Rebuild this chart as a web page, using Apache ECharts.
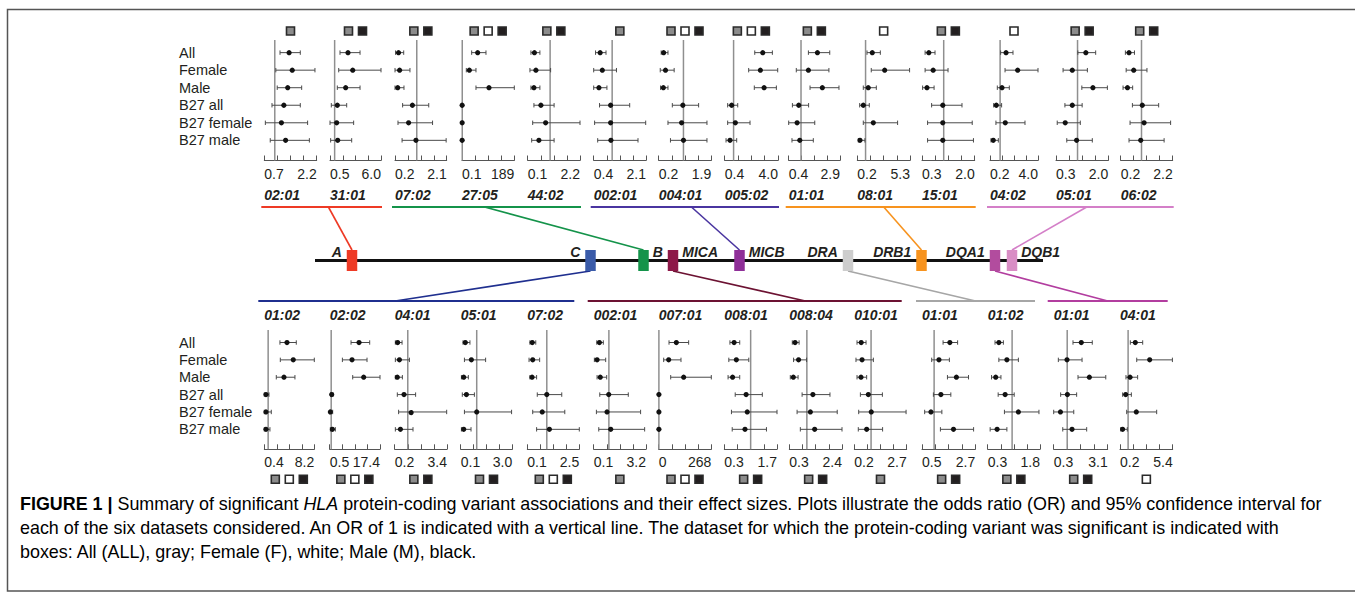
<!DOCTYPE html>
<html><head><meta charset="utf-8">
<script src="https://cdn.jsdelivr.net/npm/echarts@6/dist/echarts.min.js"></script>
<style>html,body{margin:0;padding:0;background:#fff}#c{width:1355px;height:602px}</style>
</head><body><div id="c"></div>
<script>
// ---------------- DATA ----------------
const rowLabels = ['All', 'Female', 'Male', 'B27 all', 'B27 female', 'B27 male'];

// top row (HLA-A, B, MICB, DRB1, DQB1 alleles)
const topAlleles = ['02:01','31:01','07:02','27:05','44:02','002:01','004:01','005:02','01:01','08:01','15:01','04:02','05:01','06:02'];
const topTickLabels = [['0.7','2.2'],['0.5','6.0'],['0.2','2.1'],['0.1','189'],['0.1','2.2'],['0.4','2.1'],['0.2','1.9'],['0.4','4.0'],['0.4','2.9'],['0.2','5.3'],['0.3','2.0'],['0.2','4.0'],['0.3','2.0'],['0.2','2.2']];
const topSig = ['A','AM','AM','AFM','AM','A','AFM','AFM','AM','F','AM','F','AM','AM'];
const topOR = [
  [1.41,1.50,1.37,1.26,1.19,1.31],
  [2.44,2.95,2.19,1.29,1.22,1.33],
  [0.33,0.37,0.30,0.84,0.70,0.97],
  [56.7,26.6,97.6,0.6,0.7,0.6],
  [0.37,0.43,0.35,0.63,0.82,0.55],
  [0.61,0.68,0.57,0.95,0.95,0.96],
  [0.36,0.42,0.35,0.98,0.94,1.00],
  [2.97,2.81,3.06,0.87,1.12,0.76],
  [1.80,1.36,2.04,0.89,0.81,0.94],
  [1.65,2.85,1.26,0.78,1.75,0.46],
  [0.52,0.66,0.46,0.97,0.97,0.97],
  [1.47,2.39,1.15,0.70,1.41,0.46],
  [1.27,0.83,1.50,0.83,0.60,0.97],
  [0.52,0.70,0.46,1.03,1.10,0.97]
];
const topLo = [
  [1.15,1.03,1.07,0.92,0.73,0.87],
  [1.58,1.44,1.29,0.64,0.50,0.57],
  [0.22,0.20,0.20,0.48,0.31,0.46],
  [35.0,15.7,50.6,0.2,0.2,0.2],
  [0.23,0.19,0.23,0.35,0.30,0.26],
  [0.46,0.40,0.40,0.59,0.43,0.53],
  [0.28,0.25,0.26,0.64,0.50,0.58],
  [2.43,2.02,2.40,0.60,0.60,0.49],
  [1.36,0.77,1.44,0.58,0.40,0.56],
  [1.14,1.55,0.78,0.43,0.78,0.30],
  [0.40,0.40,0.32,0.61,0.48,0.48],
  [1.04,1.39,0.78,0.49,0.67,0.28],
  [1.01,0.53,1.14,0.59,0.34,0.65],
  [0.38,0.41,0.29,0.65,0.56,0.52]
];
const topHi = [
  [1.73,2.15,1.77,1.73,1.94,1.99],
  [3.74,6.00,3.74,2.30,3.05,2.84],
  [0.52,0.75,0.53,1.44,1.58,2.08],
  [86.7,50.6,189,1.8,2.1,1.9],
  [0.59,1.02,0.59,1.16,2.20,1.16],
  [0.80,1.14,0.83,1.57,2.09,1.84],
  [0.50,0.70,0.50,1.49,1.76,1.76],
  [3.62,3.98,3.89,1.28,2.11,1.21],
  [2.40,2.36,2.85,1.37,1.67,1.60],
  [2.43,5.26,2.04,1.36,4.10,0.94],
  [0.72,1.14,0.69,1.59,1.92,1.96],
  [2.02,4.00,1.73,1.12,2.97,0.86],
  [1.59,1.32,1.97,1.15,1.09,1.48],
  [0.73,1.21,0.66,1.66,2.12,1.87]
];

// bottom row (HLA-C, MICA, DRA, DQA1 alleles)
const botAlleles = ['01:02','02:02','04:01','05:01','07:02','002:01','007:01','008:01','008:04','010:01','01:01','01:02','01:01','04:01'];
const botTickLabels = [['0.4','8.2'],['0.5','17.4'],['0.2','3.4'],['0.1','3.0'],['0.1','2.5'],['0.1','3.2'],['0','268'],['0.3','1.7'],['0.3','2.4'],['0.2','2.7'],['0.5','2.7'],['0.3','1.8'],['0.3','3.1'],['0.2','5.4']];
const botSig = ['AFM','AFM','AM','AM','AFM','A','AFM','AM','AM','A','AM','AM','AM','F'];
const botOR = [
  [3.94,4.92,3.47,0.66,0.66,0.66],
  [10.35,8.00,11.92,1.17,0.72,1.40],
  [0.38,0.49,0.36,0.77,1.20,0.55],
  [0.36,0.70,0.27,0.42,1.00,0.27],
  [0.33,0.35,0.32,1.00,0.79,1.12],
  [0.44,0.30,0.49,0.99,0.89,1.11],
  [89.9,50.9,127.2,1.0,1.0,1.0],
  [0.56,0.62,0.52,0.88,0.91,0.85],
  [0.53,0.67,0.46,1.24,1.14,1.31],
  [0.53,0.57,0.52,0.87,1.01,0.79],
  [1.65,1.20,1.92,1.28,0.87,1.80],
  [0.62,0.85,0.53,0.80,1.18,0.57],
  [1.73,0.99,2.15,1.01,0.65,1.25],
  [1.71,3.13,1.19,0.76,1.81,0.46]
];
const botLo = [
  [2.84,2.90,2.27,0.40,0.40,0.40],
  [7.67,4.76,8.23,0.84,0.50,0.72],
  [0.24,0.24,0.24,0.36,0.44,0.24],
  [0.23,0.31,0.14,0.19,0.31,0.14],
  [0.22,0.18,0.22,0.56,0.35,0.53],
  [0.28,0.14,0.30,0.46,0.26,0.40],
  [52.6,25.4,61.1,0.3,0.3,0.3],
  [0.45,0.42,0.40,0.59,0.49,0.51],
  [0.42,0.47,0.34,0.81,0.61,0.74],
  [0.33,0.28,0.33,0.49,0.41,0.39],
  [1.37,0.90,1.55,0.97,0.61,1.26],
  [0.51,0.62,0.41,0.60,0.78,0.37],
  [1.30,0.54,1.56,0.66,0.30,0.77],
  [1.22,1.85,0.79,0.46,0.86,0.27]
];
const botHi = [
  [5.39,8.20,5.18,1.13,1.49,1.28],
  [13.94,13.04,17.40,1.62,1.50,2.40],
  [0.65,1.10,0.67,1.48,3.38,1.32],
  [0.62,1.50,0.53,0.87,2.96,0.68],
  [0.49,0.67,0.53,1.69,1.83,2.50],
  [0.67,0.81,0.87,2.15,2.88,3.12],
  [152.6,113.6,268,2.5,2.8,2.6],
  [0.71,0.95,0.71,1.31,1.70,1.42],
  [0.69,0.99,0.65,1.92,2.21,2.40],
  [0.76,1.11,0.79,1.54,2.67,1.55],
  [1.97,1.63,2.42,1.69,1.32,2.63],
  [0.75,1.18,0.68,1.06,1.77,0.85],
  [2.30,1.77,3.00,1.49,1.34,2.01],
  [2.44,5.37,1.94,1.32,3.82,0.92]
];

// gene map (schematic positions along the MHC region)
const geneNames = ['A','C','B','MICA','MICB','DRA','DRB1','DQA1','DQB1'];
const genePos = [352, 590.5, 643.5, 673, 739.5, 848, 921.5, 995, 1012];
const geneColors = ['#ee3a25','#3a5ba9','#14934a','#8d1848','#8f2f98','#cdcdcd','#f7931e','#b24c9e','#d98dc5'];
const geneLabelSide = ['L','L','R','R','R','L','L','L','R'];

// which panels belong to which gene
const topGroups = [
  {first:0, last:1, gene:0, color:'#ee3a25', frac:0.556},
  {first:2, last:4, gene:2, color:'#14934a', frac:0.49},
  {first:5, last:7, gene:4, color:'#4a35a0', frac:0.535},
  {first:8, last:10, gene:6, color:'#f7931e', frac:0.516},
  {first:11, last:13, gene:8, color:'#d47fc8', frac:0.534}
];
const botGroups = [
  {first:0, last:4, gene:1, color:'#1f2f8f', frac:0.433},
  {first:5, last:9, gene:3, color:'#6c1232', frac:0.693},
  {first:10, last:11, gene:5, color:'#a6a6a6', frac:0.5},
  {first:12, last:13, gene:7, color:'#b23d9f', frac:0.5}
];

// ---------------- LAYOUT ----------------
const topPos = [[264.3,316.7],[330,381],[395,446.7],[462,514.3],[527.7,580],[593.7,646],[658.7,711.3],[724.7,778],[788.7,840],[857.3,910],[922,974.7],[990,1038],[1056,1108.3],[1120.7,1172.7]];
const botPos = [[264.3,314.3],[329.7,380],[394.7,447],[460.7,512.3],[527.3,579.3],[593.7,646],[658.7,711.3],[724.3,777],[789.3,842],[854.3,906.7],[922,975.3],[987.7,1040],[1053.7,1107.7],[1120,1172.7]];
const FONT = '"Liberation Sans", Arial, Helvetica, sans-serif';
const TXT = '#231f20';
const YMIN = -0.72, YMAX = 6.15;
const SIGFILL = {A:'#8c8c8c', F:'#ffffff', M:'#231f20'};

const grids = [], xAxes = [], yAxes = [], series = [];

function errRender(params, api) {
  const y = api.value(0), lo = api.value(1), pt = api.value(2), hi = api.value(3);
  const a = api.coord([lo, y]), p = api.coord([pt, y]), b = api.coord([hi, y]);
  const st = {stroke:'#4a4a4a', lineWidth:1};
  return {type:'group', children:[
    {type:'line', shape:{x1:a[0], y1:a[1], x2:b[0], y2:b[1]}, style:st},
    {type:'line', shape:{x1:a[0], y1:a[1]-2.2, x2:a[0], y2:a[1]+2.2}, style:st},
    {type:'line', shape:{x1:b[0], y1:b[1]-2.2, x2:b[0], y2:b[1]+2.2}, style:st},
    {type:'circle', shape:{cx:p[0], cy:p[1], r:2.6}, style:{fill:'#111'}}
  ]};
}

function addPanel(isTop, i) {
  const pos = isTop ? topPos[i] : botPos[i];
  const lbl = isTop ? topTickLabels[i] : botTickLabels[i];
  const allele = isTop ? topAlleles[i] : botAlleles[i];
  const sig = isTop ? topSig[i] : botSig[i];
  const pt = isTop ? topOR[i] : botOR[i];
  const lo = isTop ? topLo[i] : botLo[i];
  const hi = isTop ? topHi[i] : botHi[i];
  const mn = parseFloat(lbl[0]), mx = parseFloat(lbl[1]);
  const g = grids.length;
  const top = isTop ? 40 : 330, h = isTop ? 120.5 : 119.3;
  grids.push({left: pos[0], width: pos[1]-pos[0], top: top, height: h, show:false});
  const ticks = [0,1,2,3,4].map(k => mn + k*(mx-mn)/4);
  xAxes.push({
    gridIndex:g, type:'value', min:mn, max:mx,
    axisLine:{show:true, onZero:false, lineStyle:{color:'#555', width:1}},
    axisTick:{show:true, inside:true, length:5, lineStyle:{color:'#555', width:1}, customValues:ticks},
    axisLabel:{show:true, customValues:[mn, mx], margin:6, color:TXT, fontSize:14, fontFamily:FONT,
      alignMinLabel:'left', alignMaxLabel:'right', showMinLabel:true, showMaxLabel:true,
      formatter: v => (Math.abs(v-mn) < 1e-9 ? lbl[0] : lbl[1])},
    splitLine:{show:false}
  });
  yAxes.push({gridIndex:g, type:'value', min:YMIN, max:YMAX, inverse:true, show:false});
  // decorations: reference line at OR = 1, significance boxes, allele label, row labels
  series.push({
    type:'custom', xAxisIndex:g, yAxisIndex:g, clip:false, silent:true, z:1,
    data:[[mn, 0]],
    renderItem: function(params, api) {
      const cs = params.coordSys;
      const ch = [];
      const rx = api.coord([1, 0])[0];
      ch.push({type:'line', shape:{x1:rx, y1:cs.y, x2:rx, y2:cs.y+cs.height}, style:{stroke:'#8f8f8f', lineWidth:1.5}});
      const n = sig.length, sp = 14, sz = 8;
      const cx = cs.x + cs.width/2;
      const sy = isTop ? cs.y - 9 : cs.y + cs.height + 30;
      for (let k = 0; k < n; k++) {
        const x = cx + (k - (n-1)/2)*sp;
        ch.push({type:'rect', shape:{x:x-sz/2, y:sy-sz/2, width:sz, height:sz},
          style:{fill:SIGFILL[sig[k]], stroke:'#2a2a2a', lineWidth:1.6}});
      }
      const ay = isTop ? cs.y + cs.height + 34.5 : cs.y - 15;
      ch.push({type:'text', x:cs.x, y:ay, style:{text:allele, fill:TXT, font:'italic bold 14px '+FONT, textAlign:'left', textVerticalAlign:'middle'}});
      if (i === 0) {
        for (let r = 0; r < rowLabels.length; r++) {
          const yy = api.coord([mn, r])[1];
          ch.push({type:'text', x:179, y:yy, style:{text:rowLabels[r], fill:TXT, font:'14.5px '+FONT, textAlign:'left', textVerticalAlign:'middle'}});
        }
      }
      return {type:'group', children:ch};
    }
  });
  series.push({
    type:'custom', xAxisIndex:g, yAxisIndex:g, clip:false, silent:true, z:3,
    data: rowLabels.map((r, k) => [k, lo[k], pt[k], hi[k]]),
    encode:{x:[1,2,3], y:0},
    renderItem: errRender
  });
}

for (let i = 0; i < topAlleles.length; i++) addPanel(true, i);
for (let i = 0; i < botAlleles.length; i++) addPanel(false, i);

// gene map on a full-canvas schematic grid
const mg = grids.length;
grids.push({left:0, top:0, width:1355, height:602, show:false});
xAxes.push({gridIndex:mg, type:'value', min:0, max:1355, show:false});
yAxes.push({gridIndex:mg, type:'value', min:0, max:602, inverse:true, show:false});
const CHR = {x1:315, x2:1043, y:260.5, boxTop:250, boxBot:271, boxW:10.5};
const HTOP = 207, HBOT = 301;

const connData = topGroups.map((gr, k) => ['T', k]).concat(botGroups.map((gr, k) => ['B', k]));
series.push({
  type:'custom', xAxisIndex:mg, yAxisIndex:mg, clip:false, silent:true, z:2,
  data: connData.map((d, k) => [k, 0]),
  renderItem: function(params, api) {
    const d = connData[params.dataIndex];
    const isTop = d[0] === 'T';
    const gr = isTop ? topGroups[d[1]] : botGroups[d[1]];
    const pos = isTop ? topPos : botPos;
    const x1 = isTop ? pos[gr.first][0]-3 : pos[gr.first][0]-6;
    const x2 = isTop ? pos[gr.last][1]+1 : pos[gr.last][1]-5;
    const hy = isTop ? HTOP : HBOT;
    const ax = x1 + gr.frac*(x2-x1);
    const gx = genePos[gr.gene];
    const gy = isTop ? CHR.boxTop : CHR.boxBot;
    const p1 = api.coord([x1, hy]), p2 = api.coord([x2, hy]), pa = api.coord([ax, hy]), pg = api.coord([gx, gy]);
    return {type:'group', children:[
      {type:'line', shape:{x1:p1[0], y1:p1[1], x2:p2[0], y2:p2[1]}, style:{stroke:gr.color, lineWidth:2}},
      {type:'line', shape:{x1:pa[0], y1:pa[1], x2:pg[0], y2:pg[1]}, style:{stroke:gr.color, lineWidth:1.6}}
    ]};
  }
});
series.push({
  type:'custom', xAxisIndex:mg, yAxisIndex:mg, clip:false, silent:true, z:3,
  data:[[CHR.x1, CHR.y]],
  renderItem: function(params, api) {
    const a = api.coord([CHR.x1, CHR.y]), b = api.coord([CHR.x2, CHR.y]);
    return {type:'line', shape:{x1:a[0], y1:a[1], x2:b[0], y2:b[1]}, style:{stroke:'#111', lineWidth:3}};
  }
});
series.push({
  type:'custom', xAxisIndex:mg, yAxisIndex:mg, clip:false, silent:true, z:4,
  data: genePos.map((p, k) => [p, k]),
  renderItem: function(params, api) {
    const k = params.dataIndex;
    const p = genePos[k];
    const tl = api.coord([p - CHR.boxW/2, CHR.boxTop]);
    const br = api.coord([p + CHR.boxW/2, CHR.boxBot]);
    const left = geneLabelSide[k] === 'L';
    const lx = left ? tl[0] - 5 : br[0] + 4;
    return {type:'group', children:[
      {type:'rect', shape:{x:tl[0], y:tl[1], width:br[0]-tl[0], height:br[1]-tl[1]}, style:{fill:geneColors[k]}},
      {type:'text', x:lx, y:CHR.boxTop + 2, style:{text:geneNames[k], fill:TXT, font:'italic bold 14px '+FONT, textAlign: left ? 'right' : 'left', textVerticalAlign:'middle'}}
    ]};
  }
});

// caption font: prefer a narrow face if installed, fit line 1 to the reference width
const capLine1 = 'FIGURE 1 | Summary of significant HLA protein-coding variant associations and their effect sizes. Plots illustrate the odds ratio (OR) and 95% confidence interval for';
const cv = document.createElement('canvas').getContext('2d');
function w(font) { cv.font = font; return cv.measureText(capLine1).width; }
let CAPF = '"Liberation Sans", Arial, sans-serif';
if (Math.abs(w('20px "Liberation Sans Narrow", monospace') - w('20px monospace')) > 1) CAPF = '"Liberation Sans Narrow", "Liberation Sans", sans-serif';
let capSize = 18 * 1300 / w('18px ' + CAPF);
capSize = Math.round(capSize * 10) / 10;
const capStyle = {
  n:{fontFamily:CAPF, fontSize:capSize, color:'#333'},
  i:{fontFamily:CAPF, fontSize:capSize, color:'#333', fontStyle:'italic'},
  b:{fontFamily:CAPF, fontSize:capSize, color:'#222', fontWeight:'bold'},
  bar:{fontFamily:CAPF, fontSize:capSize, color:'#555', fontWeight:'bold'}
};

const option = {
  animation:false,
  backgroundColor:'#fff',
  grid:grids, xAxis:xAxes, yAxis:yAxes, series:series,
  graphic:[
    {type:'polyline', shape:{points:[[1360,9.5],[7.5,9.5],[7.5,591],[1360,591]]}, style:{stroke:'#555', lineWidth:1.5, fill:null}, silent:true},
    {type:'text', left:20, top:495, style:{rich:capStyle, text:'{b|FIGURE 1 }{bar||}{n| Summary of significant }{i|HLA}{n| protein-coding variant associations and their effect sizes. Plots illustrate the odds ratio (OR) and 95% confidence interval for}'}},
    {type:'text', left:20, top:519, style:{rich:capStyle, text:'{n|each of the six datasets considered. An OR of 1 is indicated with a vertical line. The dataset for which the protein-coding variant was significant is indicated with}'}},
    {type:'text', left:20, top:543, style:{rich:capStyle, text:'{n|boxes: All (ALL), gray; Female (F), white; Male (M), black.}'}}
  ]
};
const chart = echarts.init(document.getElementById('c'), null, {renderer:'svg', width:1355, height:602});
chart.setOption(option);
</script>
</body></html>
